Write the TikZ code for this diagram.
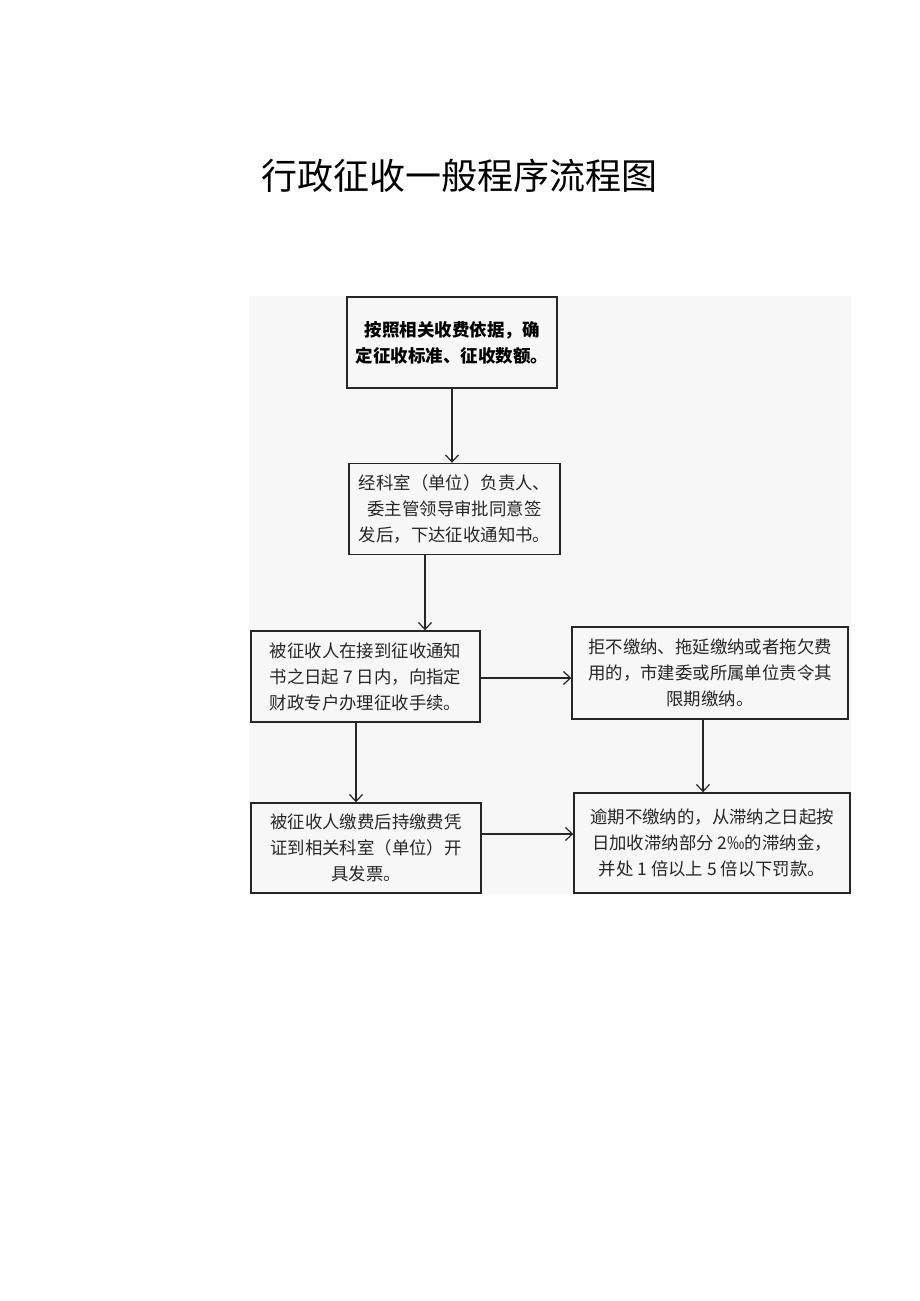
\documentclass[tikz,border=0pt]{standalone}
\usepackage{fontspec}
\setmainfont{Noto Sans CJK SC}
\usetikzlibrary{arrows.meta}
\definecolor{bgray}{HTML}{F7F7F7}
\definecolor{txt}{HTML}{262626}
\tikzset{
  flowbox/.style={draw=black!85, line width=1.4pt, minimum height=91pt, align=center, inner sep=0pt, font=\fontsize{17.4}{26}\selectfont, text=txt},
  arr/.style={draw=black!85, line width=1.2pt, -{Straight Barb[length=7pt,width=13pt,line width=1.2pt]}}
}
\begin{document}
\begin{tikzpicture}[x=1pt,y=-1pt]
\useasboundingbox (0,0) rectangle (920,1301);
\fill[bgray] (249,296) rectangle (851,894);
\node[font=\fontsize{36}{42}\selectfont] (title) at (459.5,176) {行政征收一般程序流程图};
\node[flowbox, minimum width=210pt, font=\fontsize{17.5}{26}\selectfont\bfseries, text=black] (b1) at (452,342.5) {按照相关收费依据，确\\定征收标准、征收数额。};
\node[flowbox, minimum width=211pt] (b2) at (454.5,509) {经科室（单位）负责人、\\委主管领导审批同意签\\发后，下达征收通知书。};
\node[flowbox, minimum width=229pt] (b3) at (365.5,676.5) {被征收人在接到征收通知\\书之日起 7 日内，向指定\\财政专户办理征收手续。};
\node[flowbox, minimum width=276pt, minimum height=92pt] (b4) at (710,673) {拒不缴纳、拖延缴纳或者拖欠费\\用的，市建委或所属单位责令其\\限期缴纳。};
\node[flowbox, minimum width=276pt, minimum height=100pt] (b5) at (712,843) {逾期不缴纳的，从滞纳之日起按\\日加收滞纳部分 2‰的滞纳金，\\并处 1 倍以上 5 倍以下罚款。};
\node[flowbox, minimum width=230pt, minimum height=90pt] (b6) at (366,848) {被征收人缴费后持缴费凭\\证到相关科室（单位）开\\具发票。};
\draw[arr] (b1.south) -- (b2.north -| b1.south);
\draw[arr] (b2.south -| 425,0) -- (b3.north -| 425,0);
\draw[arr] (b3.east |- 0,678) -- (b4.west |- 0,678);
\draw[arr] (b4.south -| 703,0) -- (b5.north -| 703,0);
\draw[arr] (b3.south -| 356,0) -- (b6.north -| 356,0);
\draw[arr] (b6.east |- 0,834) -- (b5.west |- 0,834);
\end{tikzpicture}
\end{document}
